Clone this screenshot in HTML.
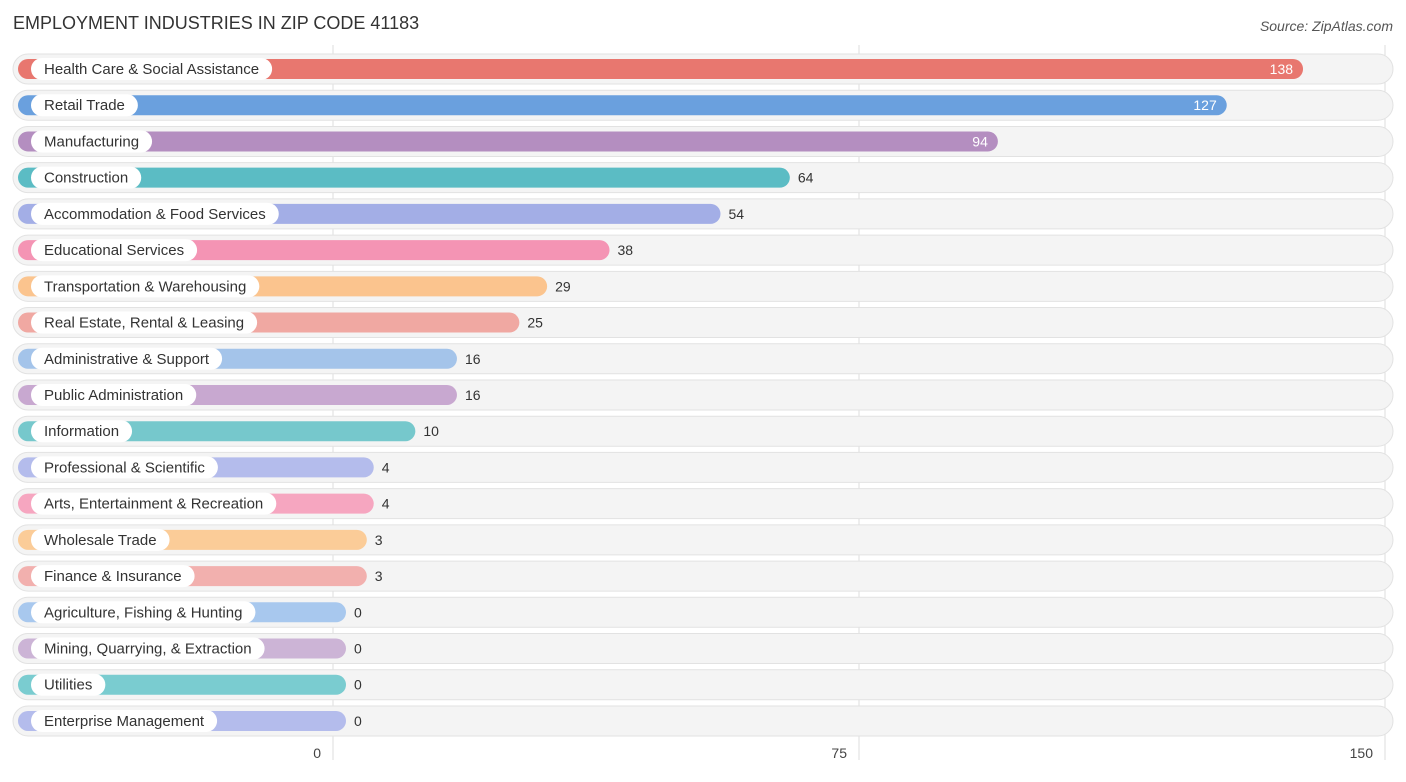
<!DOCTYPE html>
<html><head><meta charset="utf-8"><style>
body{margin:0;background:#fff;font-family:"Liberation Sans",sans-serif;}
svg text{font-family:"Liberation Sans",sans-serif;}
</style></head><body>
<svg id="chart" width="1406" height="777" xmlns="http://www.w3.org/2000/svg">
<text x="13" y="29" font-size="18" fill="#333">EMPLOYMENT INDUSTRIES IN ZIP CODE 41183</text>
<text x="1393" y="31" font-size="14" fill="#555" font-style="italic" text-anchor="end">Source: ZipAtlas.com</text>
<g id="grid"></g><g id="rows"></g><g id="ticks"></g>
</svg>
<script>
const categories=["Health Care & Social Assistance","Retail Trade","Manufacturing","Construction","Accommodation & Food Services","Educational Services","Transportation & Warehousing","Real Estate, Rental & Leasing","Administrative & Support","Public Administration","Information","Professional & Scientific","Arts, Entertainment & Recreation","Wholesale Trade","Finance & Insurance","Agriculture, Fishing & Hunting","Mining, Quarrying, & Extraction","Utilities","Enterprise Management"];
const values=[138,127,94,64,54,38,29,25,16,16,10,4,4,3,3,0,0,0,0];
const colors=["#e8776f","#6aa0de","#b48ec0","#5bbcc4","#a3aee6","#f494b4","#fbc48e","#f0a8a2","#a4c4ea","#c8a8d0","#76c8cc","#b4bcec","#f6a6c0","#fbcc98","#f2b0ae","#a8c8ee","#ccb4d6","#7accd0","#b4bcec"];
const tickValues=[0,75,150];
const ns="http://www.w3.org/2000/svg";
function mk(t,a,p){const e=document.createElementNS(ns,t);for(const k in a)e.setAttribute(k,a[k]);p.appendChild(e);return e;}
function gx(v){return 333+v*(1385-333)/150;}
function bx(v){return 346+v*6.935;}
function ry(i){return 69+i*36.22;}
const grid=document.getElementById('grid'),rows=document.getElementById('rows'),ticks=document.getElementById('ticks');
tickValues.forEach(t=>{
 const l=mk('line',{x1:gx(t),x2:gx(t),y1:45,y2:760,stroke:'#ddd','stroke-width':1},grid);
 
 
 const tx=mk('text',{x:gx(t)-12,y:758,'font-size':14,fill:'#444','text-anchor':'end'},ticks);
 tx.textContent=t;
 
 
});
categories.forEach((c,i)=>{
 const y=ry(i);
 const g=mk('g',{},rows);
 
 
 mk('rect',{x:13,y:y-15,width:1380,height:30,rx:15,fill:'#f4f4f4',stroke:'#e2e2e2'},g);
 const b=mk('rect',{x:18,y:y-10,width:bx(values[i])-18,height:20,rx:10,fill:colors[i]},g);
 
 
 const lt=mk('text',{x:44,y:y+5,'font-size':15,fill:'#333'},g);
 lt.textContent=c;
 
 
 const w=lt.getComputedTextLength();
 const p=mk('rect',{x:31,y:y-11,width:w+26,height:22,rx:11,fill:'#fff'},g);
 g.insertBefore(p,lt);
 const inside=values[i]>80;
 const vt=mk('text',{x:inside?bx(values[i])-10:bx(values[i])+8,y:y+5,'font-size':14,fill:inside?'#fff':'#333','text-anchor':inside?'end':'start'},g);
 vt.textContent=values[i];
 
 
});
</script>
</body></html>
